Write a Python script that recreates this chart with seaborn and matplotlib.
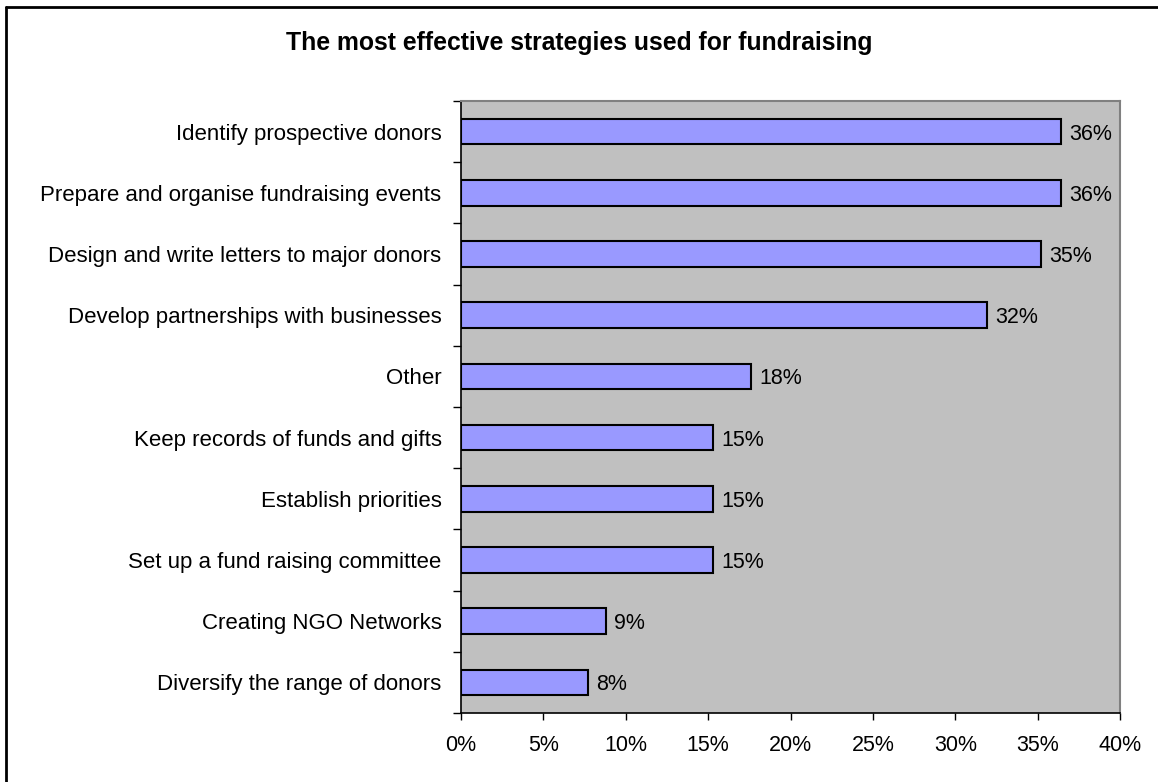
import matplotlib
matplotlib.use("Agg")
import matplotlib.pyplot as plt
from matplotlib.lines import Line2D
from matplotlib.ticker import FixedLocator, FuncFormatter
import numpy as np
import pandas as pd
import seaborn as sns

# Survey results: share of respondents naming each strategy (%)
strategies = [
    "Identify prospective donors",
    "Prepare and organise fundraising events",
    "Design and write letters to major donors",
    "Develop partnerships with businesses",
    "Other",
    "Keep records of funds and gifts",
    "Establish priorities",
    "Set up a fund raising committee",
    "Creating NGO Networks",
    "Diversify the range of donors",
]
shares = [36.4, 36.4, 35.2, 31.9, 17.6, 15.3, 15.3, 15.3, 8.8, 7.7]
x_ticks = [0, 5, 10, 15, 20, 25, 30, 35, 40]
title = "The most effective strategies used for fundraising"

df = pd.DataFrame({"strategy": strategies, "share": shares})

sns.set_style("white")
plt.rcParams["font.family"] = ["Liberation Sans", "DejaVu Sans"]
plt.rcParams["text.color"] = "black"
plt.rcParams["xtick.color"] = "black"
plt.rcParams["ytick.color"] = "black"

fig = plt.figure(figsize=(11.58, 7.82), dpi=100)
ax = fig.add_axes([461 / 1158, 69 / 782, 659 / 1158, 612 / 782])

sns.barplot(data=df, x="share", y="strategy", orient="h", ax=ax,
            color="#9999FF", saturation=1, width=0.42,
            edgecolor="black", linewidth=1.5)

ax.set_facecolor("#C0C0C0")
ax.set_xlim(0, 40)
ax.set_ylim(len(strategies) - 0.5, -0.5)
ax.set_xlabel("")
ax.set_ylabel("")

# x axis: percent ticks pointing outward
ax.xaxis.set_major_locator(FixedLocator(x_ticks))
ax.xaxis.set_major_formatter(FuncFormatter(lambda v, p: f"{v:.0f}%"))
ax.tick_params(axis="x", which="major", direction="out", length=5, width=1,
               color="black", labelcolor="black", labelsize=15.5, pad=11,
               bottom=True)

# y axis: labels at bar centres, tick marks at category boundaries
ax.tick_params(axis="y", which="major", length=0, labelsize=16,
               labelcolor="black", pad=14)
ax.yaxis.set_minor_locator(FixedLocator(np.arange(-0.5, len(strategies), 1.0)))
ax.tick_params(axis="y", which="minor", direction="out", length=6, width=1,
               color="black", left=True)

for side in ("top", "right"):
    ax.spines[side].set_color("#808080")
    ax.spines[side].set_linewidth(1.5)
for side in ("left", "bottom"):
    ax.spines[side].set_color("black")
    ax.spines[side].set_linewidth(1.2)
    ax.spines[side].set_visible(True)

# value labels next to each bar
for container in ax.containers:
    texts = ax.bar_label(container, labels=[f"{v:.0f}%" for v in shares],
                         padding=6, fontsize=15.5, color="black")
    for t in texts:
        t.set_verticalalignment("center_baseline")

fig.text(0.5, 1 - 43 / 782, title, ha="center", va="center",
         fontsize=17.8, fontweight="bold", color="black")

# chart frame
fig.add_artist(Line2D([6 / 1158, 6 / 1158], [0, 1 - 7 / 782],
                      transform=fig.transFigure, color="black", lw=2))
fig.add_artist(Line2D([6 / 1158, 1], [1 - 7 / 782, 1 - 7 / 782],
                      transform=fig.transFigure, color="black", lw=2))

fig.savefig("out.png", dpi=100, facecolor="white")
